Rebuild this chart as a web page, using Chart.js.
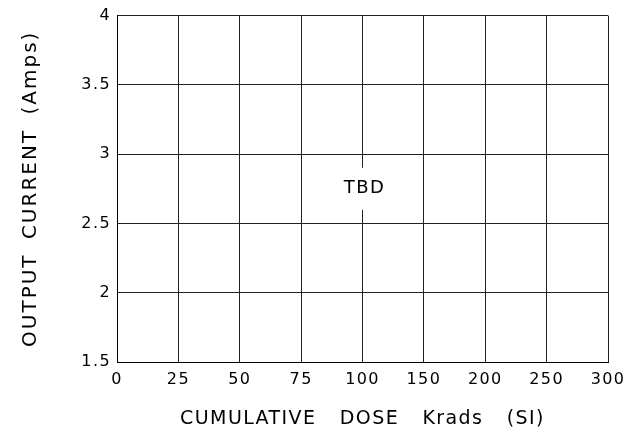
<!DOCTYPE html>
<html>
<head>
<meta charset="utf-8">
<script src="https://cdn.jsdelivr.net/npm/chart.js@4"></script>
<style>
  html, body { margin: 0; padding: 0; background: #fff; }
  #wrap { width: 626px; height: 435px; }
</style>
</head>
<body>
<div id="wrap"><canvas id="c" width="626" height="435"></canvas></div>
<script>
"use strict";

// Achsen-Daten
const doseLabels = ["0", "25", "50", "75", "100", "150", "200", "250", "300"];
const currentSeries = []; // noch keine Messwerte (TBD)
const yMin = 1.5;
const yMax = 4;
const yStep = 0.5;

// Platzhalter-Text im Diagramm
const noteText = "TBD";
const noteDoseIndex = 4; // bei "100"
const noteCurrent = 2.75;

const FONT = "'DejaVu Sans', sans-serif";

// Buchstaben- und Wortabstand wie im Original (Strichschrift)
const spacingPlugin = {
  id: "spacing",
  beforeDraw(chart) {
    chart.ctx.letterSpacing = "1.4px";
    chart.ctx.wordSpacing = "16px";
  },
  afterLayout(chart) {
    // y-Titel hat engere Wortabstände
    const y = chart.scales.y;
    if (!y || y._spacingWrapped) return;
    const orig = y.drawTitle;
    y.drawTitle = function () {
      this.ctx.save();
      this.ctx.letterSpacing = "2px";
      this.ctx.wordSpacing = "6px";
      orig.call(this);
      this.ctx.restore();
    };
    y._spacingWrapped = true;
  },
};

const notePlugin = {
  id: "note",
  afterDraw(chart) {
    const { ctx, scales } = chart;
    const x = scales.x.getPixelForValue(noteDoseIndex);
    const y = scales.y.getPixelForValue(noteCurrent);
    ctx.save();
    ctx.font = "18px " + FONT;
    ctx.letterSpacing = "1.5px";
    const w = ctx.measureText(noteText).width;
    ctx.fillStyle = "#fff";
    ctx.fillRect(x - w / 2 - 3, y - 21, w + 8, 42);
    ctx.fillStyle = "#000";
    ctx.textAlign = "center";
    ctx.textBaseline = "middle";
    ctx.fillText(noteText, x + 2, y);
    ctx.restore();
  },
};

new Chart(document.getElementById("c"), {
  type: "line",
  data: {
    labels: doseLabels,
    datasets: [{ data: currentSeries, borderColor: "#000" }],
  },
  options: {
    responsive: false,
    animation: false,
    layout: { padding: { left: 0, top: 15, right: 18, bottom: 0 } },
    plugins: {
      legend: { display: false },
      tooltip: { enabled: false },
    },
    scales: {
      x: {
        type: "category",
        offset: false,
        afterFit: (s) => {
          s.height = 73;
          s.paddingLeft = 0;
          s.paddingRight = 0;
        },
        grid: { color: "#222", lineWidth: 1, drawTicks: false, offset: false },
        border: { color: "#000", width: 1 },
        ticks: { color: "#000", font: { family: FONT, size: 16 }, padding: 8, maxRotation: 0, autoSkip: false },
        title: {
          display: true,
          text: "CUMULATIVE DOSE Krads (SI)",
          color: "#000",
          font: { family: FONT, size: 19 },
          padding: { top: 0, bottom: 5 },
        },
      },
      y: {
        min: yMin,
        max: yMax,
        afterFit: (s) => { s.width = 117; },
        grid: { color: "#222", lineWidth: 1, drawTicks: false },
        border: { color: "#000", width: 1 },
        ticks: {
          stepSize: yStep,
          color: "#000",
          font: { family: FONT, size: 16 },
          padding: 6,
          callback: (v) => String(v),
        },
        title: {
          display: true,
          text: "OUTPUT CURRENT (Amps)",
          color: "#000",
          font: { family: FONT, size: 20 },
          padding: { top: 19, bottom: 0 },
        },
      },
    },
  },
  plugins: [spacingPlugin, notePlugin],
});
</script>
</body>
</html>
